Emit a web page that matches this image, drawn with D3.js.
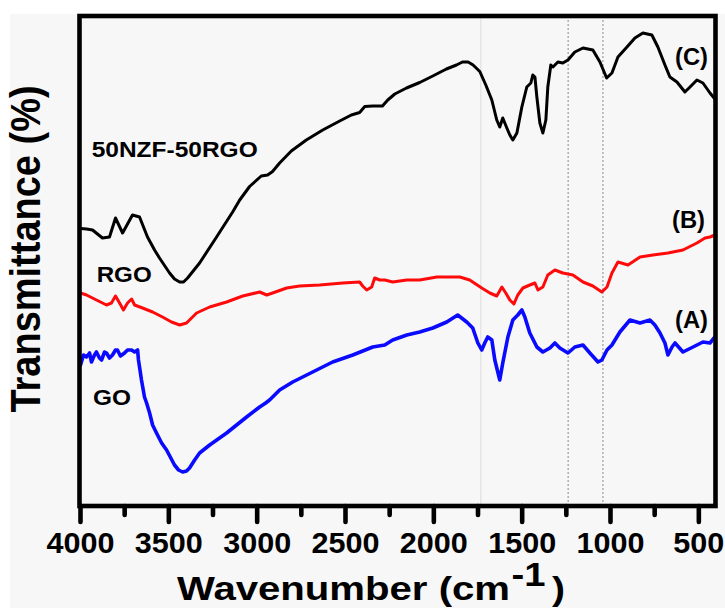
<!DOCTYPE html>
<html>
<head>
<meta charset="utf-8">
<script src="https://cdn.jsdelivr.net/npm/d3@7/dist/d3.min.js"></script>
<style>
  html, body { margin: 0; padding: 0; background: #ffffff; }
  svg { display: block; }
  text { font-family: "Liberation Sans", Arial, sans-serif; font-weight: bold; fill: #000; }
</style>
</head>
<body>
<svg id="chart" width="725" height="608"></svg>
<script>
// FTIR spectra: GO (A), RGO (B), 50NZF-50RGO (C); transmittance in arbitrary offset units
const goWn = [3997,3980,3963,3946,3935,3918,3907,3890,3878,3861,3850,3833,3816,3799,3788,3771,3748,3731,3708,3691,3674,3669,3663,3652,3635,3623,3606,3589,3567,3538,3510,3465,3442,3419,3397,3380,3351,3323,3266,3170,3057,2983,2949,2927,2870,2796,2683,2570,2456,2343,2275,2230,2150,2077,2003,1924,1862,1811,1777,1748,1726,1709,1692,1669,1652,1624,1607,1578,1550,1522,1499,1482,1454,1414,1380,1340,1312,1284,1238,1199,1153,1114,1068,1046,1017,989,944,887,830,774,746,717,689,672,649,632,587,530,474,434,411];
const goT  = [28.2,30.2,29.8,30.6,28.8,30.2,30.8,29.6,29.2,30.8,30.6,29.6,30.2,31.2,31.2,30.0,30.6,31.2,31.2,30.8,31.2,29.2,27.8,25.2,21.8,20.6,18.6,16.2,14.6,12.6,11.2,8.2,7.2,6.8,7.0,7.6,9.2,10.6,12.2,14.6,17.8,19.8,20.6,21.2,23.2,24.8,26.8,28.8,30.2,31.8,32.2,33.2,34.2,34.8,35.6,36.8,38.2,36.8,35.6,32.6,31.2,32.6,33.8,33.2,29.2,25.2,28.6,33.8,37.2,38.2,39.2,37.8,34.6,31.8,30.8,31.6,32.6,31.6,30.6,31.8,32.2,30.6,28.8,29.2,31.2,32.2,34.8,37.2,36.6,37.2,36.2,34.6,32.6,30.2,31.8,32.6,30.8,31.8,32.8,32.6,33.6];

const rgoWn = [3997,3963,3907,3850,3822,3799,3776,3754,3731,3708,3691,3646,3589,3533,3482,3436,3397,3340,3266,3170,3079,2983,2943,2910,2830,2757,2643,2513,2417,2400,2377,2349,2332,2303,2275,2230,2150,2077,1980,1850,1794,1726,1680,1641,1612,1590,1567,1544,1522,1493,1454,1425,1408,1380,1352,1312,1267,1210,1153,1097,1046,1017,989,955,898,830,757,672,587,508,462,434,406];
const rgoT  = [42.6,42.2,41.2,40.2,40.6,42.0,40.6,39.2,40.6,41.4,40.2,39.6,38.8,37.8,36.8,36.2,36.6,38.6,39.8,40.8,42.0,42.8,42.2,42.6,43.6,44.0,44.2,44.6,44.8,44.0,43.2,43.8,45.6,45.2,45.2,44.8,45.2,45.2,45.8,45.8,45.2,43.6,42.6,42.0,43.8,42.6,41.2,40.4,42.2,43.6,44.2,44.6,43.2,43.8,46.2,47.2,46.6,46.2,44.8,44.0,42.8,43.8,46.6,48.8,48.2,49.8,50.2,50.6,51.2,52.6,53.6,53.8,54.2];

const nzfWn = [3995,3963,3929,3901,3873,3833,3799,3759,3731,3703,3663,3618,3578,3550,3493,3465,3436,3414,3391,3323,3227,3136,3096,3040,2974,2938,2910,2870,2804,2719,2626,2530,2464,2417,2388,2343,2288,2258,2218,2152,2077,2003,1926,1869,1835,1803,1775,1737,1703,1669,1641,1624,1607,1584,1567,1550,1527,1499,1471,1448,1437,1425,1414,1397,1380,1363,1352,1335,1323,1295,1267,1238,1199,1153,1097,1057,1019,989,955,904,859,814,763,729,689,661,621,576,547,508,474,434,406];
const nzfT  = [55.5,55.4,55.2,54.4,53.6,53.8,57.6,54.6,56.4,58.2,57.8,53.8,51.2,49.6,46.6,45.4,44.8,44.8,45.6,48.6,53.8,58.8,61.2,63.9,66.0,66.2,66.9,68.6,71.0,73.2,75.2,77.0,78.2,78.7,79.9,80.0,80.0,81.2,82.4,83.6,84.7,86.0,87.4,88.2,88.8,88.8,88.2,86.9,84.2,81.2,77.2,75.8,77.6,75.6,74.2,73.2,74.6,79.8,83.8,84.6,86.2,85.8,81.8,76.6,74.6,77.2,83.8,88.2,87.8,88.8,88.6,89.2,90.8,91.6,91.2,88.8,85.6,86.6,89.8,91.8,93.6,94.6,94.2,91.8,88.2,85.8,84.8,82.8,83.8,85.2,84.6,82.6,81.4];

const majorTicks = [4000, 3500, 3000, 2500, 2000, 1500, 1000, 500];
const minorTicks = [3750, 3250, 2750, 2250, 1750, 1250, 750];
const guideSolid = [1731];
const guideDotted = [1237, 1040];

const curveLabels = ["(A)", "(B)", "(C)"];
const sampleNames = ["GO", "RGO", "50NZF-50RGO"];

const svg = d3.select("#chart");

const x = d3.scaleLinear().domain([4000, 400]).range([80, 716]);
const y = d3.scaleLinear().domain([0, 98]).range([506, 16]);

// light grey page panel
svg.append("rect").attr("x", 10).attr("y", 14).attr("width", 715).attr("height", 594).attr("fill", "#f7f7f7");

// reference guides
svg.selectAll("line.gs").data(guideSolid).join("line")
  .attr("x1", d => x(d)).attr("x2", d => x(d))
  .attr("y1", y(98)).attr("y2", y(0))
  .attr("stroke", "#dcdcdc").attr("stroke-width", 1);
svg.selectAll("line.gd").data(guideDotted).join("line")
  .attr("x1", d => x(d)).attr("x2", d => x(d))
  .attr("y1", y(98)).attr("y2", y(0))
  .attr("stroke", "#8a8a8a").attr("stroke-width", 1).attr("stroke-dasharray", "2,2");

// spectra
const line = d3.line().x(d => x(d[0])).y(d => y(d[1]));
const series = [
  { wn: goWn, t: goT, color: "#0a0aff", w: 3.6 },
  { wn: rgoWn, t: rgoT, color: "#ff0a0a", w: 3.0 },
  { wn: nzfWn, t: nzfT, color: "#000000", w: 3.0 }
];
series.forEach(s => {
  svg.append("path")
    .datum(d3.zip(s.wn, s.t))
    .attr("d", line)
    .attr("fill", "none")
    .attr("stroke", s.color)
    .attr("stroke-width", s.w)
    .attr("stroke-linejoin", "round")
    .attr("stroke-linecap", "round");
});

// frame
svg.append("rect")
  .attr("x", 79.5).attr("y", 16).attr("width", 636).attr("height", 490)
  .attr("fill", "none").attr("stroke", "#000").attr("stroke-width", 4.6);

// bottom axis: major ticks with labels, minor ticks without
const gMajor = svg.append("g").attr("transform", "translate(0,506)")
  .call(d3.axisBottom(x).tickValues(majorTicks).tickSize(16).tickPadding(10).tickFormat(d3.format("d")));
const gMinor = svg.append("g").attr("transform", "translate(0,506)")
  .call(d3.axisBottom(x).tickValues(minorTicks).tickSize(9).tickFormat(""));
[gMajor, gMinor].forEach(g => {
  g.select(".domain").remove();
  g.selectAll(".tick line").attr("stroke", "#000").attr("stroke-width", 4.6).attr("stroke-linecap", "round");
});
gMajor.selectAll(".tick text")
  .attr("font-size", 29)
  .attr("font-family", "Liberation Sans, Arial, sans-serif")
  .attr("font-weight", "bold")
  .attr("fill", "#000")
  .attr("textLength", d => String(d).length === 4 ? 68 : 51)
  .attr("lengthAdjust", "spacingAndGlyphs");

// x axis title
const xt = svg.append("g");
xt.append("text").attr("x", 177).attr("y", 599.5).attr("font-size", 34)
  .attr("textLength", 333).attr("lengthAdjust", "spacingAndGlyphs").text("Wavenumber (cm");
xt.append("text").attr("x", 511.5).attr("y", 586).attr("font-size", 34)
  .attr("textLength", 34).attr("lengthAdjust", "spacingAndGlyphs").text("-1");
xt.append("text").attr("x", 552).attr("y", 599.5).attr("font-size", 34)
  .attr("textLength", 13).attr("lengthAdjust", "spacingAndGlyphs").text(")");

// y axis title
svg.append("text")
  .attr("transform", "translate(40,249) scale(1.11,1) rotate(-90)")
  .attr("text-anchor", "middle")
  .attr("font-size", 38)
  .text("Transmittance (%)");

// sample names
const nameLayout = [
  { x: 93, y: 405, len: 38 },
  { x: 96.7, y: 281.7, len: 55 },
  { x: 91.7, y: 157.3, len: 166 }
];
sampleNames.forEach((n, i) => {
  svg.append("text").attr("x", nameLayout[i].x).attr("y", nameLayout[i].y)
    .attr("font-size", 22.5).attr("textLength", nameLayout[i].len)
    .attr("lengthAdjust", "spacingAndGlyphs").text(n);
});

// curve letters
const letterLayout = [
  { x: 675, y: 327.5 },
  { x: 672, y: 228.3 },
  { x: 675, y: 65 }
];
curveLabels.forEach((n, i) => {
  svg.append("text").attr("x", letterLayout[i].x).attr("y", letterLayout[i].y)
    .attr("font-size", 23).attr("textLength", 33)
    .attr("lengthAdjust", "spacingAndGlyphs").text(n);
});
</script>
</body>
</html>
